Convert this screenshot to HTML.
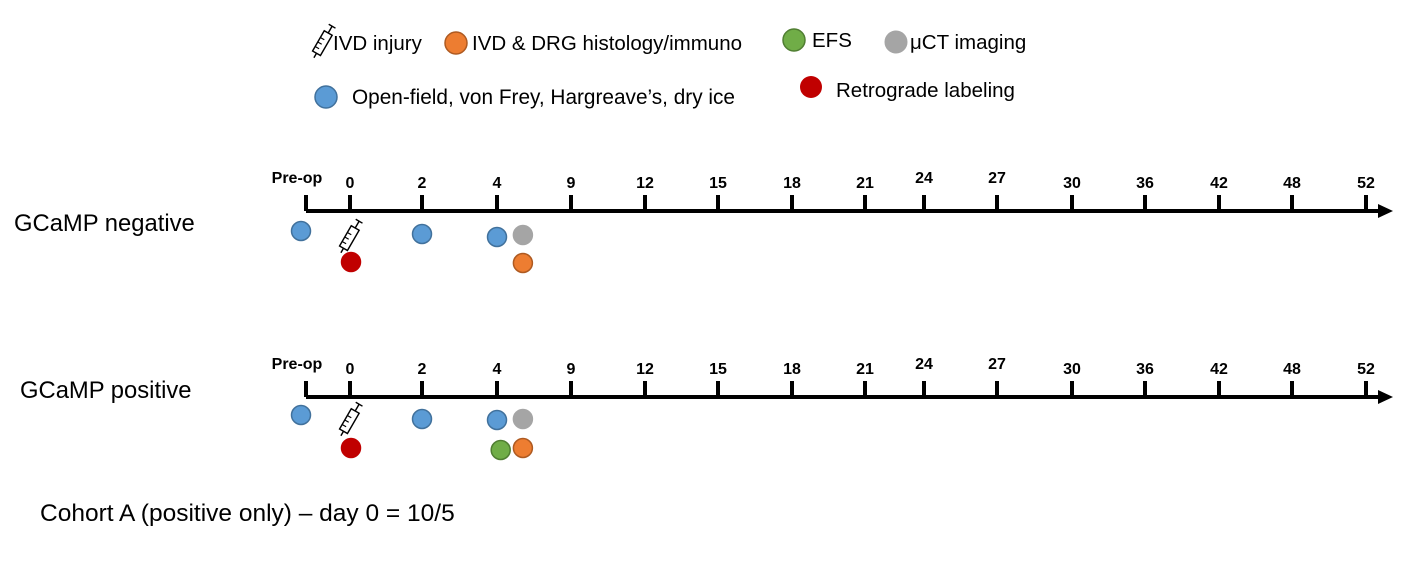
<!DOCTYPE html>
<html><head><meta charset="utf-8"><style>
body{margin:0;background:#fff;}
svg{display:block;font-family:"Liberation Sans",Arial,sans-serif;}
</style></head><body>
<svg width="1417" height="565" viewBox="0 0 1417 565">
<defs>
<g id="syr">
<g transform="scale(1.3) rotate(-60)">
<rect x="-10" y="-3.5" width="18" height="7" fill="#fff" stroke="#000" stroke-width="1.1"/>
<line x1="-6" y1="-3.5" x2="-6" y2="0" stroke="#000" stroke-width="0.9"/>
<line x1="-2" y1="-3.5" x2="-2" y2="0" stroke="#000" stroke-width="0.9"/>
<line x1="2" y1="-3.5" x2="2" y2="0" stroke="#000" stroke-width="0.9"/>
<line x1="8" y1="0" x2="14" y2="0" stroke="#000" stroke-width="1.1"/>
<line x1="14" y1="-3" x2="14" y2="3" stroke="#000" stroke-width="1.1"/>
<line x1="-10" y1="0" x2="-14" y2="0" stroke="#000" stroke-width="1.1"/>
</g></g>
</defs>
<g id="legend">
<use href="#syr" x="323" y="42"/>
<text x="333" y="50" font-size="20.5">IVD injury</text>
<circle cx="456" cy="43" r="11" fill="#ED7D31" stroke="#AE5A21" stroke-width="1.5"/>
<text x="472" y="50" font-size="20.5">IVD &amp; DRG histology/immuno</text>
<circle cx="794" cy="40" r="11" fill="#70AD47" stroke="#507E32" stroke-width="1.5"/>
<text x="812" y="47" font-size="20.5">EFS</text>
<circle cx="896" cy="42" r="11" fill="#A5A5A5" stroke="#A5A5A5"/>
<text x="910" y="49" font-size="20.5">μCT imaging</text>
<circle cx="326" cy="97" r="11" fill="#5B9BD5" stroke="#41719C" stroke-width="1.5"/>
<text x="352" y="104" font-size="20.8">Open-field, von Frey, Hargreave’s, dry ice</text>
<circle cx="811" cy="87" r="11" fill="#C00000"/>
<text x="836" y="97" font-size="20.5">Retrograde labeling</text>
</g>
<text x="14" y="231" font-size="23.8">GCaMP negative</text>
<text x="20" y="398" font-size="23.8">GCaMP positive</text>
<text x="40" y="521" font-size="24.5">Cohort A (positive only) – day 0 = 10/5</text>
<g id="tl"></g>
</svg>
<script>
const tickLabels=["Pre-op","0","2","4","9","12","15","18","21","24","27","30","36","42","48","52"];
const tickX=[306,350,422,497,571,645,718,792,865,924,997,1072,1145,1219,1292,1366];
const labelRaise=[0,0,0,0,0,0,0,0,0,5,5,0,0,0,0,0];
const rowsY=[211,397];
const negMarkers=[["blue",0,20],["syr",1,26],["blue",2,23],["blue",3,26],["gray",3.35,24],["red",1,51],["orange",3.35,52]];
const posMarkers=[["blue",0,18],["syr",1,23],["blue",2,22],["blue",3,23],["gray",3.35,22],["red",1,51],["green",3.05,53],["orange",3.35,51]];
const colors={blue:["#5B9BD5","#41719C"],gray:["#A5A5A5","#A5A5A5"],red:["#C00000","#C00000"],orange:["#ED7D31","#AE5A21"],green:["#70AD47","#507E32"]};
const NS="http://www.w3.org/2000/svg";
const g=document.getElementById("tl");
function xAt(i){const a=Math.floor(i),f=i-a;return a+1<tickX.length?tickX[a]+(tickX[a+1]-tickX[a])*f:tickX[a];}
function mk(t,at){const e=document.createElementNS(NS,t);for(const k in at)e.setAttribute(k,at[k]);g.appendChild(e);return e;}
rowsY.forEach((y,r)=>{
  const ax=mk("line",{x1:tickX[0],y1:y,x2:1380,y2:y,stroke:"#000","stroke-width":4});
  
  
  const ar=mk("polygon",{points:`1378,${y-7} 1393,${y} 1378,${y+7}`,fill:"#000"});
  
  
  tickLabels.forEach((l,i)=>{
    const x=tickX[i];
    const tk=mk("line",{x1:x,y1:y-16,x2:x,y2:y,stroke:"#000","stroke-width":4});
    
    
    const t=mk("text",{x:i==0?x-9:x,y:(i==0?y-28:y-23)-labelRaise[i],"font-size":16,"font-weight":"bold","text-anchor":"middle"});
    t.textContent=l;
    
    
  });
  const ms=r==0?negMarkers:posMarkers;
  ms.forEach(m=>{
    const x=xAt(m[1]),cy=y+m[2];
    if(m[0]=="syr"){
      const u=mk("use",{href:"#syr",x:x,y:cy});
      
      
    } else {
      const c=mk("circle",{cx:(m[0]=="blue"&&m[1]==0)?x-5:(m[0]=="red"?x+1:x),cy:cy,r:9.5,fill:colors[m[0]][0],stroke:colors[m[0]][1],"stroke-width":1.5});
      
      
    }
  });
});
</script>
</body></html>
